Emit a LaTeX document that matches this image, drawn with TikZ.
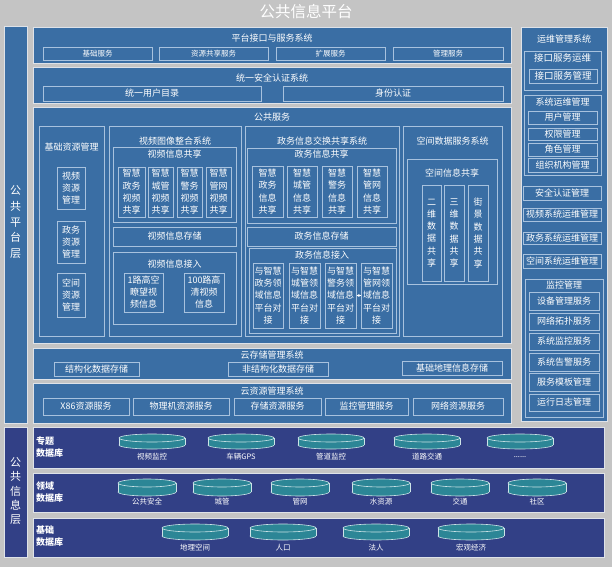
\documentclass[tikz,border=0pt]{standalone}
\usepackage{fontspec}
\setmainfont{Noto Sans CJK SC}
\usetikzlibrary{arrows.meta}
\definecolor{bgg}{RGB}{196,196,196}
\definecolor{pblue}{RGB}{58,110,164}
\definecolor{iline}{RGB}{168,194,222}
\definecolor{pline}{RGB}{222,226,232}
\definecolor{dblue}{RGB}{50,64,134}
\definecolor{cylteal}{RGB}{44,134,150}
\definecolor{cylline}{RGB}{205,228,232}
\tikzset{
  ibox/.style={draw=iline, line width=0.7pt, text=white, inner sep=0pt, align=center,
    font=\fontsize{9}{12.3}\selectfont},
  panel/.style={fill=pblue, draw=pline, line width=0.6pt},
  dpanel/.style={fill=dblue, draw=pline, line width=0.6pt},
  tt/.style={text=white, inner sep=0pt, align=center, font=\fontsize{9}{11}\selectfont},
  small/.style={font=\fontsize{7.5}{9}\selectfont},
}
\newcommand\bx[7][]{%
  \pgfmathsetmacro\bxcx{(#3+#5)/2}%
  \pgfmathsetmacro\bxcy{(#4+#6)/2}%
  \pgfmathsetmacro\bxw{#5-#3}%
  \pgfmathsetmacro\bxh{#6-#4}%
  \node[ibox,#1,minimum width=\bxw pt,minimum height=\bxh pt] (#2) at (\bxcx,\bxcy) {#7};}
\newcommand\cyl[7]{%
  \pgfmathsetmacro\cyt{#3+4}%
  \pgfmathsetmacro\cyb{#4-4}%
  \filldraw[fill=cylteal, draw=cylline, line width=0.6pt] (#2,\cyb) ellipse [x radius=#5pt, y radius=4pt];
  \fill[cylteal] (#2-#5,\cyt) rectangle (#2+#5,\cyb);
  \draw[cylline, line width=0.6pt] (#2-#5,\cyt) -- (#2-#5,\cyb) (#2+#5,\cyt) -- (#2+#5,\cyb);
  \filldraw[fill=cylteal, draw=cylline, line width=0.6pt] (#2,\cyt) ellipse [x radius=#5pt, y radius=4pt];
  \node[tt, small] (#1) at (#2,#6) {#7};}
\begin{document}
\begin{tikzpicture}[x=1pt,y=-1pt]
\useasboundingbox (0,0) rectangle (612,567);
\fill[bgg] (0,0) rectangle (612,567);
\node[tt, font=\fontsize{15.5}{16}\selectfont] (title) at (306,12) {公共信息平台};

% left layer columns
\bx[panel]{lcolA}{4}{26}{27}{423}{}
\node[tt, font=\fontsize{11}{15.6}\selectfont] (lcolAt) at (15.5,222) {公\\共\\平\\台\\层};
\bx[dpanel]{lcolB}{4}{427}{27}{557}{}
\node[tt, font=\fontsize{11}{14.2}\selectfont] (lcolBt) at (15.5,491) {公\\共\\信\\息\\层};

% platform interface
\bx[panel]{pif}{33}{27}{511}{63}{}
\node[tt] (pift) at (272,38) {平台接口与服务系统};
\bx[small]{pif1}{43}{47}{152}{60}{基础服务}
\bx[small]{pif2}{159}{47}{268}{60}{资源共享服务}
\bx[small]{pif3}{276}{47}{385}{60}{扩展服务}
\bx[small]{pif4}{393}{47}{503}{60}{管理服务}

% security
\bx[panel]{sec}{33}{67}{511}{103}{}
\node[tt] (sect) at (272,78) {统一安全认证系统};
\bx{sec1}{43}{86}{261}{101}{统一用户目录}
\bx{sec2}{283}{86}{503}{101}{身份认证}

% public services
\bx[panel]{pub}{33}{107}{511}{343}{}
\node[tt] (pubt) at (272,117) {公共服务};

\bx{jc}{39}{126}{104}{336}{}
\node[tt] (jct) at (71.5,147) {基础资源管理};
\bx{jc1}{57}{167}{85}{209}{视频\\资源\\管理}
\bx{jc2}{57}{221}{85}{263}{政务\\资源\\管理}
\bx{jc3}{57}{273}{85}{317}{空间\\资源\\管理}

\bx{sp}{109}{126}{241}{336}{}
\node[tt] (spt) at (175,141) {视频图像整合系统};
\bx{spgx}{113}{147}{236}{222}{}
\node[tt] (spgxt) at (174.5,154) {视频信息共享};
\bx{sg1}{118}{167}{145}{217}{智慧\\政务\\视频\\共享}
\bx{sg2}{148}{167}{173}{217}{智慧\\城管\\视频\\共享}
\bx{sg3}{177}{167}{202}{217}{智慧\\警务\\视频\\共享}
\bx{sg4}{206}{167}{231}{217}{智慧\\管网\\视频\\共享}
\bx{spcc}{113}{227}{236}{246}{视频信息存储}
\bx{spjr}{113}{252}{236}{324}{}
\node[tt] (spjrt) at (174.5,264) {视频信息接入};
\bx[font=\fontsize{9}{12}\selectfont]{sj1}{124}{273}{163}{312}{1路高空\\瞭望视\\频信息}
\bx[font=\fontsize{9}{12}\selectfont]{sj2}{184}{273}{224}{312}{100路高\\清视频\\信息}

\bx{zw}{245}{126}{399}{336}{}
\node[tt] (zwt) at (322,141) {政务信息交换共享系统};
\bx{zwgx}{247}{148}{396}{223}{}
\node[tt] (zwgxt) at (321.5,154) {政务信息共享};
\bx{zg1}{252}{166}{283}{217}{智慧\\政务\\信息\\共享}
\bx{zg2}{287}{166}{317}{217}{智慧\\城管\\信息\\共享}
\bx{zg3}{322}{166}{352}{217}{智慧\\警务\\信息\\共享}
\bx{zg4}{357}{166}{387}{217}{智慧\\管网\\信息\\共享}
\bx{zwcc}{247}{227}{396}{246}{政务信息存储}
\bx{zwjr}{249}{248}{396}{333}{}
\node[tt] (zwjrt) at (322,255) {政务信息接入};
\bx[font=\fontsize{9}{12.2}\selectfont]{zj1}{253}{263}{283}{328}{与智慧\\政务领\\域信息\\平台对\\接}
\bx[font=\fontsize{9}{12.2}\selectfont]{zj2}{289}{263}{320}{328}{与智慧\\城管领\\域信息\\平台对\\接}
\bx[font=\fontsize{9}{12.2}\selectfont]{zj3}{325}{263}{356}{328}{与智慧\\警务领\\域信息\\平台对\\接}
\bx[font=\fontsize{9}{12.2}\selectfont]{zj4}{361}{263}{392}{328}{与智慧\\管网领\\域信息\\平台对\\接}
\draw[white, line width=0.4pt, -{Latex[length=3pt,width=3pt]}] (zj4.west) -- (zj3.east);

\bx{kj}{403}{126}{502}{336}{}
\node[tt] (kjt) at (452.5,141) {空间数据服务系统};
\bx{kjgx}{407}{159}{497}{284}{}
\node[tt] (kjgxt) at (452,173) {空间信息共享};
\bx{kg1}{422}{185}{441}{281}{二\\维\\数\\据\\共\\享}
\bx{kg2}{444}{185}{464}{281}{三\\维\\数\\据\\共\\享}
\bx{kg3}{468}{185}{488}{281}{街\\景\\数\\据\\共\\享}

% cloud storage
\bx[panel]{cs}{33}{348}{511}{379}{}
\node[tt] (cst) at (272,355) {云存储管理系统};
\bx{cs1}{54}{362}{139}{376}{结构化数据存储}
\bx{cs2}{228}{362}{328}{376}{非结构化数据存储}
\bx{cs3}{402}{361}{502}{375}{基础地理信息存储}

% cloud resources
\bx[panel]{cr}{33}{383}{511}{423}{}
\node[tt] (crt) at (272,391) {云资源管理系统};
\bx{cr1}{43}{398}{129}{415}{X86资源服务}
\bx{cr2}{133}{398}{229}{415}{物理机资源服务}
\bx{cr3}{234}{398}{321}{415}{存储资源服务}
\bx{cr4}{325}{398}{408}{415}{监控管理服务}
\bx{cr5}{413}{398}{503}{415}{网络资源服务}

% right column
\bx[panel]{ops}{521}{27}{607}{421}{}
\node[tt] (opst) at (564,39) {运维管理系统};
\bx{opa}{524}{51}{601}{90}{}
\node[tt, font=\fontsize{9.5}{11}\selectfont] (opat) at (562.5,58) {接口服务运维};
\bx[font=\fontsize{9.5}{11}\selectfont]{opa1}{529}{69}{597}{83}{接口服务管理}
\bx{opb}{524}{95}{601}{175}{}
\node[tt] (opbt) at (562.5,102) {系统运维管理};
\bx{opb1}{528}{111}{597}{124}{用户管理}
\bx{opb2}{528}{128}{597}{140}{权限管理}
\bx{opb3}{528}{143}{597}{156}{角色管理}
\bx{opb4}{528}{158}{597}{172}{组织机构管理}
\bx{opc}{523}{186}{601}{200}{安全认证管理}
\bx{opd}{523}{208}{601}{221}{视频系统运维管理}
\bx{ope}{523}{232}{601}{244}{政务系统运维管理}
\bx{opf}{523}{254}{601}{268}{空间系统运维管理}
\bx{opg}{525}{279}{603}{417}{}
\node[tt] (opgt) at (564,285) {监控管理};
\bx{opg1}{529}{292}{599}{310}{设备管理服务}
\bx{opg2}{529}{313}{599}{330}{网络拓扑服务}
\bx{opg3}{529}{333}{599}{350}{系统监控服务}
\bx{opg4}{529}{353}{599}{371}{系统告警服务}
\bx{opg5}{529}{373}{599}{391}{服务模板管理}
\bx{opg6}{529}{394}{599}{411}{运行日志管理}

% database layers
\bx[dpanel]{dbA}{33}{427}{604}{468}{}
\node[tt, anchor=west, align=left, font=\fontsize{9}{12}\bfseries] (dbAt) at (36,447) {专题\\数据库};
\cyl{cA1}{152}{434}{449}{33}{457}{视频监控}
\cyl{cA2}{241}{434}{449}{33}{457}{车辆GPS}
\cyl{cA3}{331}{434}{449}{33}{457}{管道监控}
\cyl{cA4}{427}{434}{449}{33}{457}{道路交通}
\cyl{cA5}{520}{434}{449}{33}{457}{......}

\bx[dpanel]{dbB}{33}{473}{604}{512}{}
\node[tt, anchor=west, align=left, font=\fontsize{9}{12}\bfseries] (dbBt) at (36,492.5) {领域\\数据库};
\cyl{cB1}{147}{479}{496}{29}{502}{公共安全}
\cyl{cB2}{222}{479}{496}{29}{502}{城管}
\cyl{cB3}{300}{479}{496}{29}{502}{管网}
\cyl{cB4}{381}{479}{496}{29}{502}{水资源}
\cyl{cB5}{460}{479}{496}{29}{502}{交通}
\cyl{cB6}{537}{479}{496}{29}{502}{社区}

\bx[dpanel]{dbC}{33}{518}{604}{557}{}
\node[tt, anchor=west, align=left, font=\fontsize{9}{12}\bfseries] (dbCt) at (36,536.5) {基础\\数据库};
\cyl{cC1}{195}{524}{540}{33}{548}{地理空间}
\cyl{cC2}{283}{524}{540}{33}{548}{人口}
\cyl{cC3}{376}{524}{540}{33}{548}{法人}
\cyl{cC4}{471}{524}{540}{33}{548}{宏观经济}
\end{tikzpicture}
\end{document}
